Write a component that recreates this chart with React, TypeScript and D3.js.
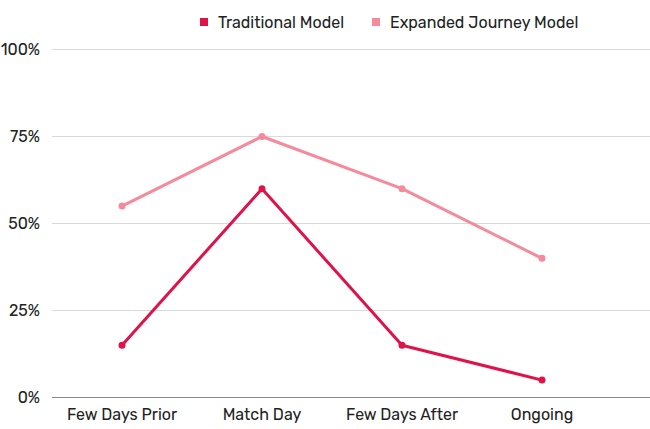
import React from "react";
import * as d3 from "d3";

const categories = ["Few Days Prior", "Match Day", "Few Days After", "Ongoing"];
const traditional = [15, 60, 15, 5];
const expanded = [55, 75, 60, 40];
const yTicks = [0, 25, 50, 75, 100];
const seriesNames = ["Traditional Model", "Expanded Journey Model"];
const colors = ["#e0124a", "#f48a9c"];

export default function App() {
  const W = 650, H = 429;
  const x = d3.scaleBand().domain(categories).range([52, 612]);
  const y = d3.scaleLinear().domain([0, 100]).range([397.5, 49.5]);
  const line = d3.line<number>().x((_, i) => x(categories[i])! + x.bandwidth() / 2).y((d) => y(d));
  const font = "Rubik, Inter, 'Noto Sans', sans-serif";
  const series = [traditional, expanded];
  return (
    <svg width={W} height={H} style={{ position: "absolute", left: 0, top: 0, background: "#fff" }} fontFamily={font}>
      {yTicks.map((t) => (
        <g key={t}>
          <line x1={52} x2={650} y1={y(t)} y2={y(t)} stroke={t === 0 ? "#888" : "#d9d9d9"} strokeWidth={1} />
          <text x={40} y={y(t)} dy="0.35em" textAnchor="end" fontSize={16} fill="#222">{t}%</text>
        </g>
      ))}
      {categories.map((c) => (
        <text key={c} x={x(c)! + x.bandwidth() / 2} y={420} textAnchor="middle" fontSize={16} fill="#222">{c}</text>
      ))}
      {[1, 0].map((si) => (
        <g key={si}>
          <path d={line(series[si])!} fill="none" stroke={colors[si]} strokeWidth={3} strokeLinejoin="round" />
          {series[si].map((v, i) => (
            <circle key={i} cx={x(categories[i])! + x.bandwidth() / 2} cy={y(v)} r={3.5} fill={colors[si]} />
          ))}
        </g>
      ))}
      {seriesNames.map((n, i) => {
        const lx = i === 0 ? 200 : 372;
        return (
          <g key={n}>
            <rect x={lx} y={18} width={8} height={8} fill={colors[i]} />
            <text x={lx + 18} y={22} dy="0.35em" fontSize={16} fill="#222">{n}</text>
          </g>
        );
      })}
    </svg>
  );
}
